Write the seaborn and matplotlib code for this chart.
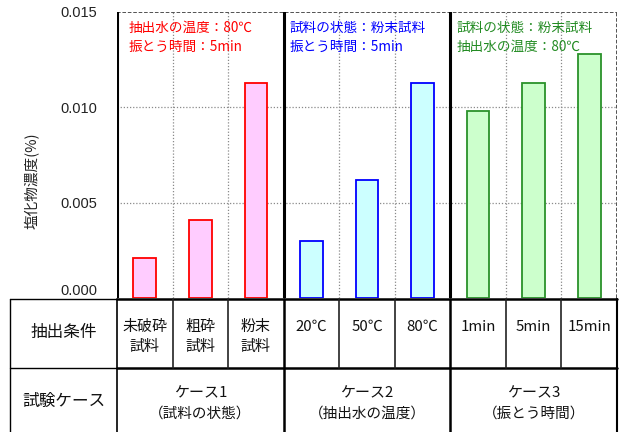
import matplotlib
matplotlib.use("Agg")
import matplotlib.pyplot as plt
from matplotlib.transforms import blended_transform_factory
from matplotlib.lines import Line2D
import seaborn as sns
import pandas as pd

# ---- data ----
conditions = ["未破砕\n試料", "粗砕\n試料", "粉末\n試料",
              "20℃", "50℃", "80℃",
              "1min", "5min", "15min"]
cases = ["ケース1", "ケース1", "ケース1",
         "ケース2", "ケース2", "ケース2",
         "ケース3", "ケース3", "ケース3"]
chloride = [0.0021, 0.0041, 0.0113,
            0.0030, 0.0062, 0.0113,
            0.0098, 0.0113, 0.0128]
case_names = ["ケース1", "ケース2", "ケース3"]
case_subtitles = ["（試料の状態）", "（抽出水の温度）", "（振とう時間）"]
case_notes = [["抽出水の温度：80℃", "振とう時間：5min"],
              ["試料の状態：粉末試料", "振とう時間：5min"],
              ["試料の状態：粉末試料", "抽出水の温度：80℃"]]
y_ticks = [0.000, 0.005, 0.010, 0.015]
row_labels = ["抽出条件", "試験ケース"]

fill_colors = {"ケース1": "#FFCCFF", "ケース2": "#CCFFFF", "ケース3": "#CCFFCC"}
edge_colors = {"ケース1": "#FF0000", "ケース2": "#0000FF", "ケース3": "#2A922A"}
note_colors = {"ケース1": "#FF0000", "ケース2": "#0000FF", "ケース3": "#228B22"}

sns.set_theme(style="white")
plt.rcParams["font.family"] = ["Noto Sans CJK JP", "DejaVu Sans"]

df = pd.DataFrame({"condition": conditions, "case": cases, "value": chloride})

fig = plt.figure(figsize=(6.19, 4.32), dpi=100)
W, H = 619, 432
ax = fig.add_axes([117 / W, 134 / H, 500 / W, 286 / H])

sns.barplot(data=df, x="condition", y="value", hue="case", order=conditions,
            palette=fill_colors, dodge=False, width=0.41, legend=False,
            saturation=1, linewidth=1.3, ax=ax)

# colour each bar outline by its case
for patch in ax.patches:
    cx = patch.get_x() + patch.get_width() / 2
    idx = int(round(cx))
    if 0 <= idx < len(cases):
        patch.set_edgecolor(edge_colors[cases[idx]])
        patch.set_linewidth(1.3)

ax.set_xlim(-0.5, len(conditions) - 0.5)
ax.set_ylim(0, 0.015)
ax.set_xlabel("")
ax.set_ylabel("")
ax.set_xticks([])
ax.set_yticks(y_ticks)
ax.set_yticklabels([f"{t:.3f}" for t in y_ticks], family="Liberation Sans",
                   fontsize=10.5, color="#222222")
ax.tick_params(axis="y", length=0, pad=14)
ax.get_yticklabels()[0].set_verticalalignment("bottom")
for s in ax.spines.values():
    s.set_visible(False)

# dotted grid
grid_kw = dict(color="#8A8A8A", lw=0.9, ls=(0, (1, 1.5)), zorder=0)
for yv in y_ticks[1:3]:
    ax.axhline(yv, **grid_kw)
for xv in [0.5, 1.5, 3.5, 4.5, 6.5, 7.5]:
    ax.axvline(xv, **grid_kw)

# plot frame: dashed top/right, heavy left and case separators
border_kw = dict(color="#444444", lw=1.3, ls=(0, (2, 1)), zorder=3)
ax.axhline(0.015, **border_kw)
ax.axvline(len(conditions) - 0.5, **border_kw)
ax.axvline(-0.5, color="black", lw=2.2, zorder=4)
for xv in [2.5, 5.5]:
    ax.axvline(xv, color="black", lw=2.2, zorder=4)

# condition notes inside each case
note_x = [-0.30, 2.61, 5.61]
for k, case in enumerate(case_names):
    for j, line in enumerate(case_notes[k]):
        ax.text(note_x[k], [0.01415, 0.01318][j], line, color=note_colors[case],
                fontsize=9.8, ha="left", va="center", zorder=5)

fig.text(32 / W, 1 - 181 / H, "塩化物濃度(%)", rotation=90, ha="center",
         va="center", fontsize=10.5, color="#222222")

# ---- condition table under the axes ----
bt = blended_transform_factory(ax.transData, ax.transAxes)
at = ax.transAxes
y_top, y_mid, y_bot = -0.004, -0.2437, -0.55
x_left = -0.214


def hline(x0, x1, y, tr, lw):
    ax.add_line(Line2D([x0, x1], [y, y], transform=tr, color="black", lw=lw,
                       clip_on=False, zorder=6))


def vline(x, y0, y1, tr, lw, color="black"):
    ax.add_line(Line2D([x, x], [y0, y1], transform=tr, color=color, lw=lw,
                       clip_on=False, zorder=6))


hline(x_left, 0, y_top, at, 1.0)
hline(0, 1, y_top, at, 1.8)
hline(x_left, 0, y_mid, at, 1.0)
hline(0, 1, y_mid, at, 1.8)
vline(x_left, y_top, y_bot, at, 1.0)
vline(0, y_top, y_bot, at, 1.2)
vline(1, y_top, y_bot, at, 1.5)
for xv in [2.5, 5.5]:
    vline(xv, y_top, y_bot, bt, 1.8)
for xv in [0.5, 1.5, 3.5, 4.5, 6.5, 7.5]:
    vline(xv, y_top, y_mid, bt, 1.2, color="#222222")

ax.text(x_left / 2, -0.122, row_labels[0], transform=at, ha="center",
        va="center", fontsize=12, color="#111111")
ax.text(x_left / 2, -0.362, row_labels[1], transform=at, ha="center",
        va="center", fontsize=12, color="#111111")

line_y = [-0.101, -0.171]
for i, cond in enumerate(conditions):
    for j, line in enumerate(cond.split("\n")):
        ax.text(i, line_y[j], line, transform=bt, ha="center", va="center",
                fontsize=10.8, color="#111111")

for k in range(3):
    cx = 3 * k + 1
    ax.text(cx, -0.333, case_names[k], transform=bt, ha="center",
            va="center", fontsize=10.8, color="#111111")
    ax.text(cx, -0.403, case_subtitles[k], transform=bt, ha="center",
            va="center", fontsize=10.5, color="#111111")

fig.savefig("out.png", dpi=100)
